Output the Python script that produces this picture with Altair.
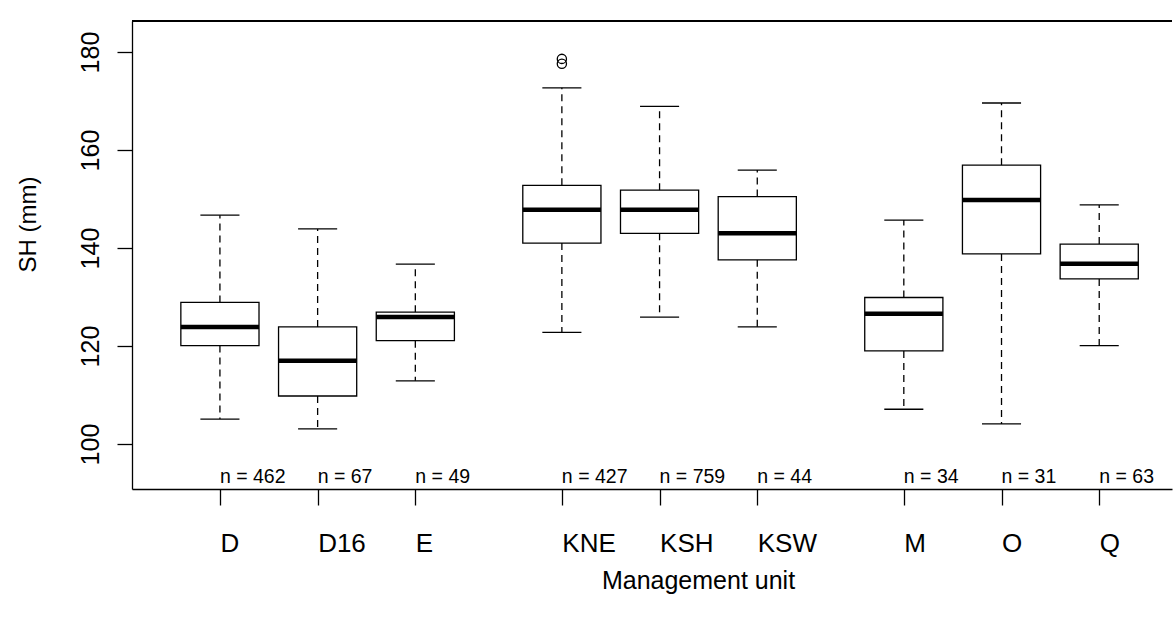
import altair as alt
import pandas as pd

# ---- data ----
groups = ["D", "D16", "E", "KNE", "KSH", "KSW", "M", "O", "Q"]
positions = [1, 2, 3, 4.5, 5.5, 6.5, 8, 9, 10]
lower = [105.1, 103.1, 112.9, 122.8, 125.9, 123.9, 107.1, 104.1, 120.1]
q1 = [120.1, 109.8, 121.1, 141.0, 143.0, 137.6, 119.0, 138.8, 133.7]
median = [123.9, 117.0, 125.9, 147.8, 147.8, 143.0, 126.6, 149.8, 136.8]
q3 = [128.9, 123.9, 126.9, 152.8, 151.8, 150.5, 129.9, 156.9, 140.8]
upper = [146.7, 143.9, 136.7, 172.7, 168.9, 155.9, 145.7, 169.6, 148.8]
counts = [462, 67, 49, 427, 759, 44, 34, 31, 63]
outlier_group = ["KNE", "KNE"]
outlier_values = [178.6, 177.6]
y_ticks = [100, 120, 140, 160, 180]

df = pd.DataFrame({
    "group": groups, "pos": positions, "lower": lower, "q1": q1,
    "median": median, "q3": q3, "upper": upper, "n": counts,
})
pos_of = dict(zip(groups, positions))
out_df = pd.DataFrame({"group": outlier_group,
                       "pos": [pos_of[g] for g in outlier_group],
                       "value": outlier_values})

W, H = 1040, 468
FONT = "Liberation Sans"

xscale = alt.Scale(domain=[0.1, 10.745], nice=False, zero=False)
yscale = alt.Scale(domain=[90.82, 186.33], nice=False, zero=False)

label_expr = ("[" + ",".join("'%s'" % g for g in groups) + "][indexof(["
              + ",".join(str(p) for p in positions) + "], datum.value)]")

xaxis = alt.Axis(values=positions, labelExpr=label_expr, title="Management unit",
                 labelAlign="left", labelBaseline="alphabetic", labelPadding=46,
                 labelFontSize=26, tickSize=16, tickWidth=1.3, domainWidth=1.3,
                 titleFontSize=25, titleFontWeight="normal", titleX=566, titleY=99,
                 titleBaseline="alphabetic", titleAlign="center", grid=False,
                 labelFlush=False, labelOverlap=False)
yaxis = alt.Axis(values=y_ticks, title="SH (mm)", labelAngle=270,
                 labelAlign="center", labelBaseline="alphabetic", labelPadding=19,
                 labelFontSize=25, tickSize=15, tickWidth=1.3, domainWidth=1.3,
                 titleFontSize=24, titleFontWeight="normal", titleAngle=270,
                 titleX=-104, titleY=203, titleAlign="center", titleBaseline="middle",
                 grid=False, labelFlush=False)

base = alt.Chart(df)

frame_top = alt.Chart(df).mark_rule(color="black", strokeWidth=1.3).encode(
    x=alt.value(0), x2=alt.value(W), y=alt.value(0))

whisk_up = base.mark_rule(color="black", strokeWidth=1.3, strokeDash=[7, 5]).encode(
    x=alt.X("pos:Q", scale=xscale, axis=xaxis),
    y=alt.Y("q3:Q", scale=yscale, axis=yaxis),
    y2="upper:Q")
whisk_lo = base.mark_rule(color="black", strokeWidth=1.3, strokeDash=[7, 5]).encode(
    x=alt.X("pos:Q", scale=xscale), y=alt.Y("q1:Q", scale=yscale), y2="lower:Q")

staples = base.transform_fold(["lower", "upper"], as_=["end", "v"]).transform_calculate(
    s0="datum.pos - 0.2", s1="datum.pos + 0.2").mark_rule(
    color="black", strokeWidth=1.3).encode(
    x=alt.X("s0:Q", scale=xscale), x2="s1:Q", y=alt.Y("v:Q", scale=yscale))

boxes = base.transform_calculate(b0="datum.pos - 0.4", b1="datum.pos + 0.4").mark_rect(
    fill="white", stroke="black", strokeWidth=1.3).encode(
    x=alt.X("b0:Q", scale=xscale), x2="b1:Q",
    y=alt.Y("q1:Q", scale=yscale), y2="q3:Q")

medians = base.transform_calculate(b0="datum.pos - 0.4", b1="datum.pos + 0.4").mark_rule(
    color="black", strokeWidth=4.5).encode(
    x=alt.X("b0:Q", scale=xscale), x2="b1:Q", y=alt.Y("median:Q", scale=yscale))

outliers = alt.Chart(out_df).mark_point(shape="circle", filled=False, color="black",
                                        size=85, strokeWidth=1.3, opacity=1).encode(
    x=alt.X("pos:Q", scale=xscale), y=alt.Y("value:Q", scale=yscale))

nlabels = base.transform_calculate(lab="'n = ' + datum.n").mark_text(
    align="left", baseline="alphabetic", fontSize=19.5, font=FONT, color="black").encode(
    x=alt.X("pos:Q", scale=xscale), y=alt.value(462), text="lab:N")

chart = alt.layer(whisk_up, whisk_lo, staples, boxes, medians, outliers, nlabels,
                  frame_top).properties(
    width=W, height=H,
    autosize=alt.AutoSizeParams(type="none"),
    padding={"left": 132, "top": 21, "right": 1, "bottom": 135},
    background="white",
).configure_view(stroke=None).configure_axis(
    domainColor="black", tickColor="black", labelColor="black", titleColor="black",
    labelFont=FONT, titleFont=FONT,
)

chart.save("out.html", embed_options={"renderer": "svg", "actions": False})
